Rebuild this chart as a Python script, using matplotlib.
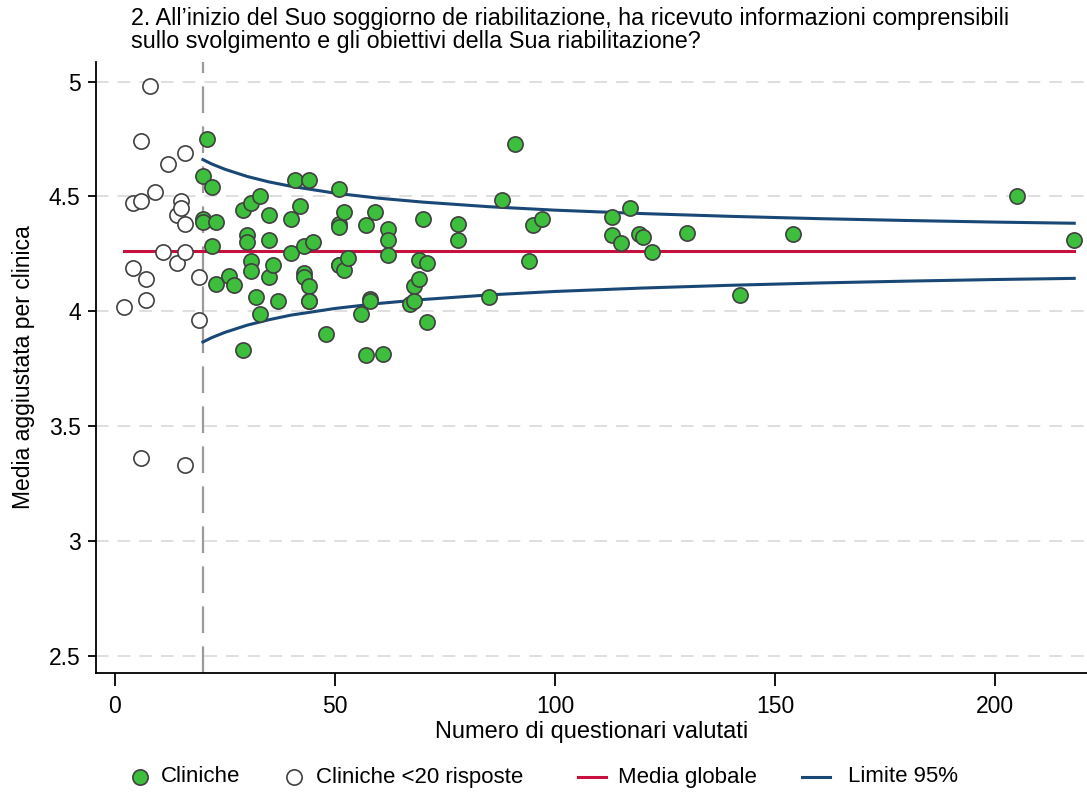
import matplotlib
matplotlib.use("Agg")
import matplotlib.pyplot as plt
from matplotlib.lines import Line2D

plt.rcParams['font.family'] = ['Liberation Sans', 'DejaVu Sans']

title = "2. All\u2019inizio del Suo soggiorno de riabilitazione, ha ricevuto informazioni comprensibili\nsullo svolgimento e gli obiettivi della Sua riabilitazione?"
xlabel = "Numero di questionari valutati"
ylabel = "Media aggiustata per clinica"
xticks = [0, 50, 100, 150, 200]
yticks = [2.5, 3, 3.5, 4, 4.5, 5]
ytick_labels = ["2.5", "3", "3.5", "4", "4.5", "5"]
legend_labels = ["Cliniche", "Cliniche <20 risposte", "Media globale", "Limite 95%"]

# clinics with >= 20 responses
n_big = [20, 20, 20, 21, 22, 22, 23, 23, 26, 27, 29, 29, 30, 30, 31, 31, 31, 32, 33, 33,
         35, 35, 35, 36, 37, 40, 40, 41, 42, 43, 43, 43, 44, 44, 44, 44, 45, 48, 51, 51,
         51, 51, 51, 52, 52, 53, 56, 57, 57, 58, 58, 59, 61, 62, 62, 62, 67, 68, 68, 69,
         69, 70, 71, 71, 78, 78, 85, 88, 91, 94, 95, 97, 113, 113, 115, 117, 119, 120, 122, 130,
         142, 154, 205, 218]
m_big = [4.59, 4.40, 4.39, 4.75, 4.54, 4.285, 4.39, 4.12, 4.155, 4.115, 4.44, 3.83, 4.33, 4.30, 4.47, 4.22, 4.175, 4.06, 4.50, 3.99,
         4.42, 4.31, 4.15, 4.20, 4.045, 4.40, 4.255, 4.57, 4.46, 4.285, 4.165, 4.15, 4.57, 4.11, 4.045, 4.045, 4.30, 3.90, 4.53, 4.38,
         4.365, 4.20, 4.20, 4.43, 4.18, 4.23, 3.99, 4.375, 3.81, 4.053, 4.046, 4.43, 3.815, 4.36, 4.31, 4.245, 4.03, 4.11, 4.045, 4.225,
         4.14, 4.40, 4.21, 3.955, 4.38, 4.31, 4.06, 4.485, 4.73, 4.22, 4.375, 4.40, 4.41, 4.33, 4.295, 4.45, 4.335, 4.325, 4.26, 4.34,
         4.07, 4.335, 4.50, 4.31]

# clinics with < 20 responses
n_small = [2, 4, 4, 6, 6, 6, 7, 7, 8, 9, 11, 12, 14, 14, 15, 15, 16, 16, 16, 16, 19, 19]
m_small = [4.02, 4.19, 4.47, 4.48, 4.74, 3.36, 4.14, 4.05, 4.98, 4.52, 4.26, 4.64, 4.21, 4.42, 4.48, 4.45, 4.38, 4.69, 4.26, 3.33, 4.15, 3.96]

# global mean line
mean_x = [2, 218]
mean_y = [4.263, 4.263]

# 95% limits
lim_x = [20, 22, 25, 30, 35, 40, 50, 60, 70, 85, 100, 120, 140, 160, 180, 200, 218]
lim_upper = [4.660, 4.641, 4.618, 4.587, 4.563, 4.544, 4.514, 4.492, 4.475, 4.455, 4.440, 4.425, 4.413, 4.403, 4.395, 4.388, 4.383]
lim_lower = [3.866, 3.885, 3.908, 3.939, 3.963, 3.983, 4.012, 4.034, 4.051, 4.071, 4.086, 4.101, 4.113, 4.123, 4.131, 4.138, 4.143]

threshold = 20

GREEN = "#3dbf3d"
EDGE = "#404040"
RED = "#c8103e"
BLUE = "#1a4876"

W, H = 1087, 792
fig = plt.figure(figsize=(W / 100, H / 100), dpi=100)
L, R, T, B = 96, 1087, 62, 673
ax = fig.add_axes([L / W, 1 - B / H, (R - L) / W, (B - T) / H])

ax.set_xlim(-4.3, 220.9)
ax.set_ylim(2.425, 5.085)

for y in yticks:
    ax.axhline(y, color="#dcdcdc", lw=1.3, ls=(0, (7, 5)), zorder=0)
ax.axvline(threshold, color="#9a9a9a", lw=1.6, ls=(0, (12, 6)), zorder=1)

ax.plot(mean_x, mean_y, color=RED, lw=2.2, zorder=2)
ax.plot(lim_x, lim_upper, color=BLUE, lw=2.2, zorder=2)
ax.plot(lim_x, lim_lower, color=BLUE, lw=2.2, zorder=2)

ax.scatter(n_small, m_small, s=120, facecolor="white", edgecolor=EDGE, linewidth=1.2, zorder=3)
ax.scatter(n_big, m_big, s=120, facecolor=GREEN, edgecolor=EDGE, linewidth=1.2, zorder=4)

for side in ["top", "right"]:
    ax.spines[side].set_visible(False)
for side in ["left", "bottom"]:
    ax.spines[side].set_linewidth(1.3)
    ax.spines[side].set_color("black")

ax.set_xticks(xticks)
ax.set_xticklabels([str(v) for v in xticks])
ax.set_yticks(yticks)
ax.set_yticklabels(ytick_labels)
ax.tick_params(axis="x", length=9, width=1.3, labelsize=16.5, pad=7)
ax.tick_params(axis="y", length=6, width=1.3, labelsize=16.5, pad=5)

ax.set_xlabel(xlabel, fontsize=17, labelpad=2)
ax.set_ylabel(ylabel, fontsize=16.5, labelpad=10)

fig.text(131 / W, 1 - 7 / H, title, fontsize=16.8, ha="left", va="top", linespacing=1.0)

# legend drawn manually at the bottom
ly = 1 - 777 / H
def fx(px):
    return px / W
fig.add_artist(Line2D([fx(140)], [ly], marker="o", markersize=11, markerfacecolor=GREEN,
                      markeredgecolor=EDGE, markeredgewidth=1.2, transform=fig.transFigure))
fig.text(fx(161), ly, legend_labels[0], fontsize=16, va="center", ha="left")
fig.add_artist(Line2D([fx(294)], [ly], marker="o", markersize=11, markerfacecolor="white",
                      markeredgecolor=EDGE, markeredgewidth=1.2, transform=fig.transFigure))
fig.text(fx(316), ly, legend_labels[1], fontsize=16, va="center", ha="left")
fig.add_artist(Line2D([fx(578), fx(606)], [ly, ly], color=RED, lw=2.2, transform=fig.transFigure))
fig.text(fx(618), ly, legend_labels[2], fontsize=16, va="center", ha="left")
fig.add_artist(Line2D([fx(802), fx(830)], [ly, ly], color=BLUE, lw=2.2, transform=fig.transFigure))
fig.text(fx(848), ly, legend_labels[3], fontsize=16, va="center", ha="left")

fig.savefig("out.png", dpi=100, facecolor="white")
